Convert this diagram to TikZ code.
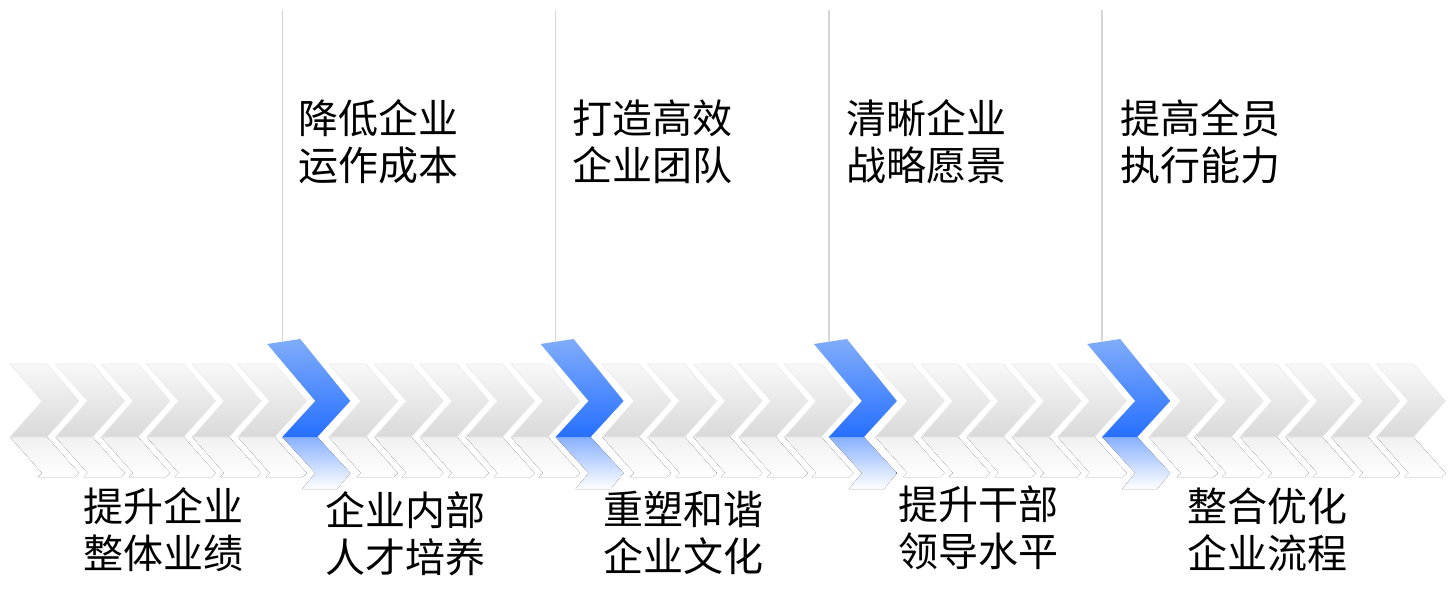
\documentclass[tikz,border=0pt]{standalone}
\usepackage{fontspec}
\setmainfont{Noto Sans CJK SC}
\newfontfamily\cjk{Noto Sans CJK SC}
\definecolor{graytop}{HTML}{F8F8F8}
\definecolor{graybot}{HTML}{D9D9D9}
\definecolor{grayedge}{HTML}{EAEAEA}
\definecolor{grayrefl}{HTML}{F1F1F1}
\definecolor{bluetop}{HTML}{80ACFA}
\definecolor{bluebot}{HTML}{2670FF}
\definecolor{bluerefl}{HTML}{88B0FF}
\definecolor{vline}{HTML}{D6D6D6}
\tikzset{
  graychev/.style={top color=graytop, bottom color=graybot, draw=grayedge, line width=0.6pt},
  grayreflect/.style={top color=grayrefl, bottom color=white},
  bluechev/.style={top color=bluetop, bottom color=bluebot},
  bluereflect/.style={top color=bluerefl, bottom color=white},
  divider/.style={draw=vline, line width=1.6pt},
  label/.style={font=\cjk\fontsize{40}{47}\selectfont, align=left, anchor=west, inner sep=0pt, text=black}
}
\newcommand{\graypiece}[1]{%
  \fill[grayreflect] (#1,437) -- (#1+37,437) -- (#1+69,473) -- (#1+65,477) -- (#1+28,477) -- (#1+32,473) -- cycle;
  \path[graychev] (#1,364) -- (#1+37,364) -- (#1+69,401) -- (#1+37,437) -- (#1,437) -- (#1+32,401) -- cycle;}
\begin{document}
\begin{tikzpicture}[x=1pt,y=-1pt]
\useasboundingbox (0,0) rectangle (1450,589);
\fill[white] (0,0) rectangle (1450,589);
% gray chevrons and their reflections (every sixth slot is blue)
\foreach \i in {0,...,30}{
  \pgfmathtruncatemacro{\m}{mod(\i,6)}
  \pgfmathtruncatemacro{\isblue}{(\m==0)&&(\i>0)&&(\i<30)}
  \ifnum\isblue=0
    \pgfmathsetmacro{\xo}{10+45.55*\i}
    \graypiece{\xo}
  \fi
}
% blue chevrons, reflections and divider lines
\foreach \k in {1,2,3,4}{
  \pgfmathsetmacro{\xo}{10+45.55*6*\k}
  \fill[bluereflect] (\xo-1,437) -- (\xo+34,437) -- (\xo+67,473) -- (\xo+54,489) -- (\xo+19,489) -- (\xo+32,473) -- cycle;
  \path[bluechev] (\xo-16,344) -- (\xo+17,339) -- (\xo+67,401) -- (\xo+34,437) -- (\xo-1,437) -- (\xo+32,401) -- cycle;
  \coordinate (top\k) at (\xo-1,10);
  \coordinate (bl\k) at (\xo-1,342);
  \draw[divider] (top\k) -- (bl\k);
}
% top labels
\node[label] (t1) at (298,142) {降低企业\\运作成本};
\node[label] (t2) at (572,142) {打造高效\\企业团队};
\node[label] (t3) at (846,142) {清晰企业\\战略愿景};
\node[label] (t4) at (1120,142) {提高全员\\执行能力};
% bottom labels
\node[label] (b1) at (83,530) {提升企业\\整体业绩};
\node[label] (b2) at (325,534) {企业内部\\人才培养};
\node[label] (b3) at (603,533) {重塑和谐\\企业文化};
\node[label] (b4) at (898,528) {提升干部\\领导水平};
\node[label] (b5) at (1187,530) {整合优化\\企业流程};
\end{tikzpicture}
\end{document}
